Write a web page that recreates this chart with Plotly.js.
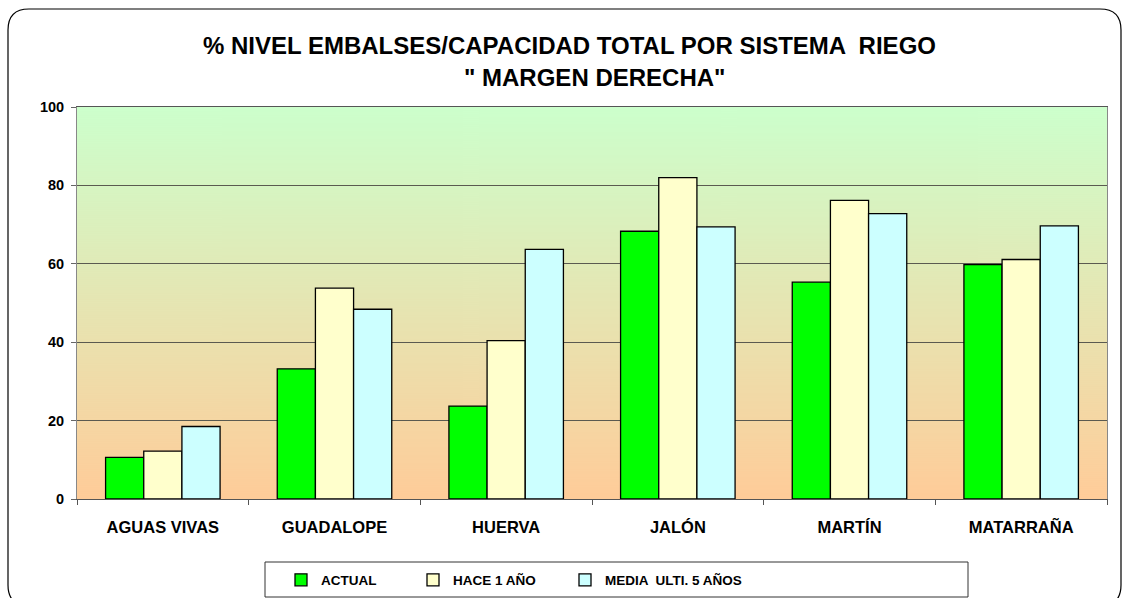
<!DOCTYPE html>
<html>
<head>
<meta charset="utf-8">
<script src="https://cdn.plot.ly/plotly-3.0.1.min.js"></script>
<style>html,body{margin:0;padding:0;background:#fff;}#chart{width:1122px;height:598px;}</style>
</head>
<body>
<div id="chart"></div>
<script>
// ---- data ----
const categories = ["AGUAS VIVAS", "GUADALOPE", "HUERVA", "JALÓN", "MARTÍN", "MATARRAÑA"];
const seriesNames = ["ACTUAL", "HACE 1 AÑO", "MEDIA  ULTI. 5 AÑOS"];
const actual = [10.6, 33.2, 23.7, 68.3, 55.3, 59.8];
const hace1 = [12.2, 53.8, 40.4, 82.0, 76.2, 61.1];
const media5 = [18.5, 48.4, 63.7, 69.4, 72.8, 69.7];
const yTicks = [0, 20, 40, 60, 80, 100];
const titleLines = ["% NIVEL EMBALSES/CAPACIDAD TOTAL POR SISTEMA  RIEGO", "\" MARGEN DERECHA\""];

// ---- geometry helpers (pixel -> paper) ----
const W = 1122, H = 598;
const mL = 77, mR = 15, mT = 107, mB = 99;
const pw = W - mL - mR, ph = H - mT - mB;
const X = px => (px - mL) / pw;
const Y = py => (H - mB - py) / ph;

// gradient background image for the plot area
const cv = document.createElement('canvas');
cv.width = 4; cv.height = 392;
const ctx = cv.getContext('2d');
const g = ctx.createLinearGradient(0, 0, 0, 392);
g.addColorStop(0, '#CCFFCC');
g.addColorStop(1, '#FFCC99');
ctx.fillStyle = g; ctx.fillRect(0, 0, 4, 392);
const bgURL = cv.toDataURL('image/png');

const FONT = '"Liberation Sans", Arial, sans-serif';
const colors = ['#00FF00', '#FFFFCC', '#CCFFFF'];
const vals = [actual, hace1, media5];
const legendIds = ['legend', 'legend2', 'legend3'];
const legendPx = [281, 413, 565];

const traces = vals.map((v, i) => ({
  type: 'bar', x: categories, y: v, name: seriesNames[i], legend: legendIds[i],
  marker: {color: colors[i], line: {color: '#000', width: 1.3}},
  hoverinfo: 'x+y+name'
}));

const r = 21;
function pathStr(){
  const pts = [
    ['M', [8, 9 + r]], ['Q', [8, 9], [8 + r, 9]],
    ['L', [1121 - r, 9]], ['Q', [1121, 9], [1121, 9 + r]],
    ['L', [1121, 606 - r]], ['Q', [1121, 606], [1121 - r, 606]],
    ['L', [8 + r, 606]], ['Q', [8, 606], [8, 606 - r]]
  ];
  return pts.map(p => p[0] + p.slice(1).map(c => X(c[0]).toFixed(5) + ',' + Y(c[1]).toFixed(5)).join(' ')).join(' ') + ' Z';
}

function legendCfg(px){
  return {
    orientation: 'h', x: X(px), xanchor: 'left', y: Y(580), yanchor: 'middle',
    font: {family: FONT, size: 13.5, weight: 'bold', color: '#000'},
    bgcolor: 'rgba(0,0,0,0)', borderwidth: 0
  };
}

const layout = {
  width: W, height: H,
  margin: {l: mL, r: mR, t: mT, b: mB, pad: 0, autoexpand: false},
  paper_bgcolor: '#FFFFFF',
  plot_bgcolor: 'rgba(0,0,0,0)',
  font: {family: FONT, color: '#000', size: 14},
  barmode: 'group', bargap: 0.333, bargroupgap: 0,
  showlegend: true,
  legend: legendCfg(legendPx[0]),
  legend2: legendCfg(legendPx[1]),
  legend3: legendCfg(legendPx[2]),
  xaxis: {
    type: 'category', tickson: 'boundaries', ticks: 'outside', ticklen: 5, tickcolor: '#555',
    showline: true, linecolor: '#555', linewidth: 1, mirror: true,
    showgrid: false, zeroline: false,
    tickfont: {family: FONT, size: 16.5, weight: 'bold', color: '#000'},
    ticklabelstandoff: 13, fixedrange: true
  },
  yaxis: {
    range: [0, 100], tickvals: yTicks, ticktext: yTicks.map(String),
    ticks: 'outside', ticklen: 5, tickcolor: '#666',
    showline: true, linecolor: '#888', linewidth: 1, mirror: true,
    showgrid: true, gridcolor: '#5a5a50', gridwidth: 1, zeroline: false,
    tickfont: {family: FONT, size: 14.5, weight: 'bold', color: '#000'},
    ticklabelstandoff: 4, fixedrange: true
  },
  images: [{
    source: bgURL, xref: 'paper', yref: 'paper', x: 0, y: 1, sizex: 1, sizey: 1,
    xanchor: 'left', yanchor: 'top', sizing: 'stretch', layer: 'below'
  }],
  shapes: [
    {type: 'rect', xref: 'paper', yref: 'paper', x0: X(265), x1: X(968), y0: Y(562), y1: Y(597),
     line: {color: '#333', width: 1}, fillcolor: 'rgba(0,0,0,0)'},
    {type: 'path', xref: 'paper', yref: 'paper', path: pathStr(),
     line: {color: '#000', width: 1.2}, fillcolor: 'rgba(0,0,0,0)'}
  ],
  annotations: [
    {text: titleLines[0], xref: 'paper', yref: 'paper', x: X(569), y: Y(45), xanchor: 'center', yanchor: 'middle',
     showarrow: false, font: {family: FONT, size: 24, weight: 'bold', color: '#000'}},
    {text: titleLines[1], xref: 'paper', yref: 'paper', x: X(594), y: Y(77), xanchor: 'center', yanchor: 'middle',
     showarrow: false, font: {family: FONT, size: 24, weight: 'bold', color: '#000'}}
  ]
};

Plotly.newPlot('chart', traces, layout, {displayModeBar: false, staticPlot: true});
</script>
</body>
</html>
